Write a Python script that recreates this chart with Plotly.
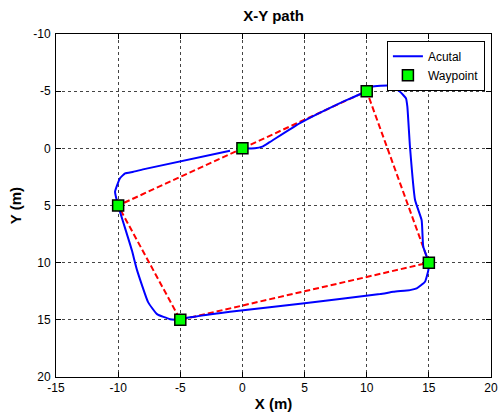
import plotly.graph_objects as go

# Waypoints (closed loop)
wp_x = [0, 10, 15, -5, -10, 0]
wp_y = [0, -5, 10, 15, 5, 0]

# Actual path
act_x = [0, 1.0, 1.6, 2.2, 4.63, 7.85, 10.0, 10.4, 11.87, 12.68, 13.16, 13.27, 13.48, 13.89, 14.42, 14.55, 15.0,
         14.96, 14.69, 14.02, 13.48, 12.14, 11.07, 5.0, -1.0, -4.62, -5.0,
         -5.82, -6.87, -7.59, -8.48, -8.9, -10.0,
         -10.25, -9.85, -9.44, -8.78, -8.0, -1.0]
act_y = [0, 0.0, -0.15, -0.55, -2.21, -3.96, -5.0, -5.39, -5.48, -4.95, -4.37, -3.64, -0.14, 4.52, 6.29, 8.61, 10.0,
         10.65, 11.67, 12.25, 12.4, 12.55, 12.75, 13.55, 14.3, 14.87, 15.0,
         14.94, 14.5, 13.45, 10.65, 8.9, 5.0,
         3.8, 2.62, 2.19, 2.05, 1.84, 0.21]

x_ticks = [-15, -10, -5, 0, 5, 10, 15, 20]
x_tick_text = ["-15", "-10", "-5", "0", "5", "10", "15", "20"]
y_ticks = [-10, -5, 0, 5, 10, 15, 20]
y_tick_text = ["-10", "-5", "0", "5", "10", "15", "20"]

fig = go.Figure()
fig.add_trace(go.Scatter(x=wp_x, y=wp_y, mode="lines", line=dict(color="red", width=2, dash="6px,3px"),
                         showlegend=False, hoverinfo="skip"))
fig.add_trace(go.Scatter(x=act_x, y=act_y, mode="lines", name="Acutal",
                         line=dict(color="blue", width=2, shape="spline", smoothing=0.4)))
fig.add_trace(go.Scatter(x=wp_x[:-1], y=wp_y[:-1], mode="markers", name="Waypoint",
                         marker=dict(symbol="square", size=11, color="#00ff00",
                                     line=dict(color="black", width=1.5))))

axis_common = dict(showline=True, linecolor="black", linewidth=1, mirror="ticks",
                   ticks="inside", ticklen=5, tickcolor="black", automargin=False,
                   showgrid=True, gridcolor="#444", gridwidth=1, griddash="3px,3px",
                   zeroline=False, tickfont=dict(family="Liberation Sans, Arial", size=12, color="black"),
                   title_font=dict(family="Liberation Sans, Arial", size=15, color="black"))

fig.update_xaxes(range=[-15, 20], tickvals=x_ticks, ticktext=x_tick_text, title_text="<b>X (m)</b>",
                 title_standoff=4, **axis_common)
fig.update_yaxes(range=[20, -10], tickvals=y_ticks, ticktext=y_tick_text, title_text="<b>Y (m)</b>",
                 title_standoff=8, ticklabelstandoff=2, **axis_common)

fig.update_layout(
    width=502, height=415,
    margin=dict(l=56, r=11, t=34, b=38),
    paper_bgcolor="white", plot_bgcolor="white",
    title=dict(text="<b>X-Y path</b>", x=0.545, xanchor="center", y=0.963, yanchor="middle",
               font=dict(family="Liberation Sans, Arial", size=15, color="black")),
    legend=dict(x=0.986, y=0.98, xanchor="right", yanchor="top", bgcolor="white",
                bordercolor="black", borderwidth=1,
                font=dict(family="Liberation Sans, Arial", size=12, color="black"),
                tracegroupgap=0),
    showlegend=True,
)

fig.write_html("out.html", config={"displayModeBar": False},
               post_script="document.body.style.margin='0';document.body.style.overflow='hidden';")
